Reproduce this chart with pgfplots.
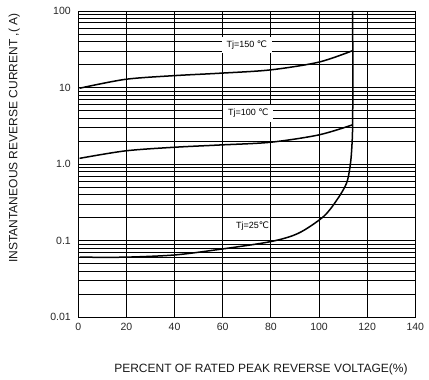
\documentclass[border=0pt]{standalone}
\usepackage{fontspec}
\setmainfont{Liberation Sans}
\newfontfamily\dejavu{DejaVu Sans}
\usepackage{pgfplots}
\pgfplotsset{compat=1.18}
\begin{document}
\begin{tikzpicture}
\begin{axis}[
  scale only axis,
  width=337pt, height=306.3pt,
  xmin=0, xmax=140, ymin=0.01, ymax=100,
  ymode=log,
  xtick={0,20,40,60,80,100,120,140},
  ytick={0.01,0.1,1,10,100},
  yticklabels={0.01,0.1,1.0,10,100},
  /pgf/number format/assume math mode=true,
  grid=both,
  major grid style={black, line width=0.8pt},
  minor grid style={black, line width=0.8pt},
  axis line style={black, line width=0.9pt},
  major tick length=0pt, minor tick length=0pt,
  tick label style={font=\fontsize{10.5}{12}\selectfont, text=black!85},
  xticklabel style={yshift=-2pt},
  yticklabel style={xshift=-4pt},
  xlabel={PERCENT OF RATED PEAK REVERSE VOLTAGE(\%)},
  ylabel={INSTANTANEOUS REVERSE CURRENT ,( A)},
  label style={font=\fontsize{12}{14}\selectfont, text=black!90},
  xlabel style={at={(axis description cs:0.542,-0.17)}, anchor=center},
  ylabel style={at={(axis description cs:-0.19,0.585)}, anchor=center},
  clip=false,
]
% Tj = 150 C
\addplot[black, line width=1.5pt, smooth] coordinates {
 (0.5,9.8) (19.5,12.8) (39.6,14.3) (58.9,15.4) (79.7,17.0) (99.7,21.4) (113.8,30.2)
};
% Tj = 100 C
\addplot[black, line width=1.5pt, smooth] coordinates {
 (0.5,1.19) (19.5,1.49) (39.6,1.66) (58.9,1.78) (79.7,1.93) (99.7,2.40) (113.8,3.25)
};
% Tj = 25 C
\addplot[black, line width=1.5pt, smooth, tension=0.5] coordinates {
 (0.5,0.061) (19.5,0.061) (39.6,0.065) (56.8,0.0757) (79.6,0.097) (91.4,0.125)
 (101.8,0.206) (107.4,0.34) (111.4,0.56) (112.9,0.93) (113.6,1.6) (114,4) (114,100)
};
\node[fill=white, inner xsep=5pt, inner ysep=4pt, font=\fontsize{9}{10}\selectfont] at (axis cs:70,36) {Tj=150 {\dejavu ℃}};
\node[fill=white, inner xsep=5pt, inner ysep=4pt, font=\fontsize{9}{10}\selectfont] at (axis cs:70.6,4.61) {Tj=100 {\dejavu ℃}};
\node[fill=white, inner sep=1pt, font=\fontsize{9}{10}\selectfont] at (axis cs:72.4,0.153) {Tj=25{\dejavu ℃}};
\end{axis}
\path (-78.3pt,-62.7pt) rectangle (350.7pt,317.3pt);
\end{tikzpicture}
\end{document}
